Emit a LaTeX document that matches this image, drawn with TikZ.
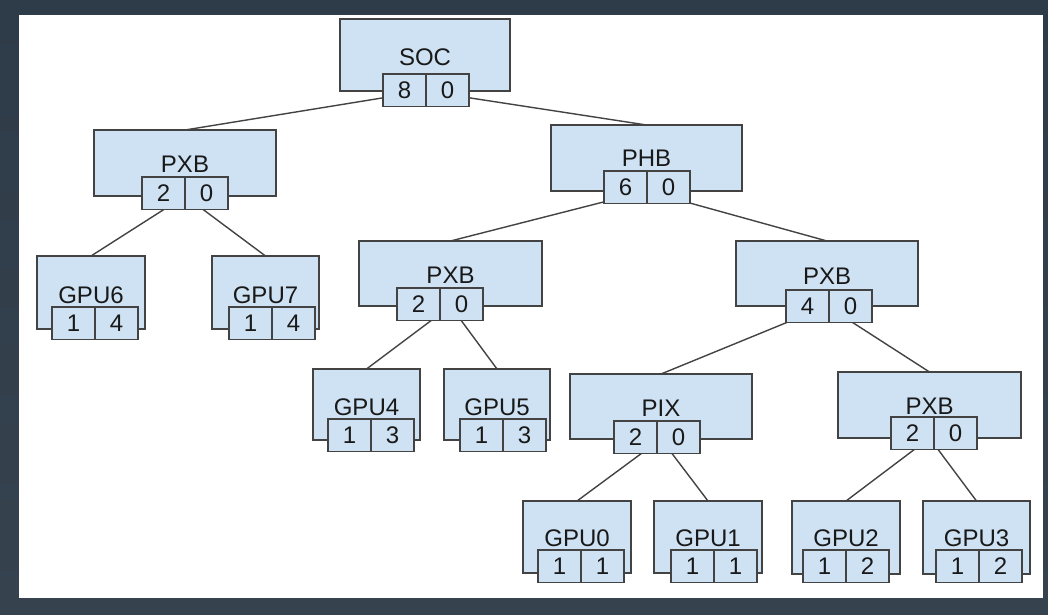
\documentclass[tikz,border=0pt]{standalone}
\usepackage{fontspec}
\setmainfont{Liberation Sans}
\pgfdeclarelayer{bg}
\pgfdeclarelayer{edges}
\pgfsetlayers{bg,edges,main}
\definecolor{frame}{HTML}{2E3B48}
\definecolor{frameb}{HTML}{36434F}
\definecolor{boxc}{HTML}{CFE2F3}
\definecolor{linec}{HTML}{434343}
\tikzset{
  tbox/.style={draw=linec, fill=boxc, line width=1.4pt, inner sep=0pt, outer sep=0pt},
  cellbox/.style={tbox, minimum width=43pt, minimum height=32.5pt, font=\fontsize{24}{28}\selectfont, text=black!90},
  lbl/.style={anchor=base, inner sep=0pt, font=\fontsize{24}{28}\selectfont, text=black!90},
  edge/.style={draw=linec, line width=1.4pt},
}
% name, cx, cy, w, h, label, label x, label baseline y
\newcommand\tbx[8]{%
  \node[tbox, minimum width=#4pt, minimum height=#5pt] (#1) at (#2,#3) {};
  \node[lbl] (#1t) at (#7,#8) {#6};}
% name, left x, top y, a, b
\newcommand\tcl[5]{%
  \node[cellbox, anchor=north west] (#1a) at (#2,#3) {#4};
  \node[cellbox, anchor=north west] (#1b) at (#1a.north east) {#5};}
\begin{document}
\begin{tikzpicture}[x=1pt,y=-1pt]
\useasboundingbox (0,0) rectangle (1048,614);
\begin{pgfonlayer}{bg}
\shade[top color=frame, bottom color=frameb] (0,0) rectangle (1048,614);
\fill[white] (19,15) rectangle (1043,598);
\end{pgfonlayer}
% level 0
\tbx{soc}{425}{55}{170}{72}{SOC}{425}{65}
\tcl{socc}{383}{74}{8}{0}
% level 1
\tbx{pxbA}{185}{163}{182}{66}{PXB}{185}{172}
\tcl{pxbAc}{142}{177}{2}{0}
\tbx{phb}{646.5}{158}{191}{66}{PHB}{646.5}{166}
\tcl{phbc}{604}{171}{6}{0}
% level 2
\tbx{gpu6}{91}{292.5}{108}{73}{GPU6}{91}{303}
\tcl{gpu6c}{52}{307}{1}{4}
\tbx{gpu7}{265.5}{292.5}{107}{73}{GPU7}{265.5}{303}
\tcl{gpu7c}{229}{307}{1}{4}
\tbx{pxbB}{450.5}{273.5}{183}{65}{PXB}{450.5}{283}
\tcl{pxbBc}{397}{288}{2}{0}
\tbx{pxbC}{827}{273.5}{182}{65}{PXB}{827}{284}
\tcl{pxbCc}{786}{290}{4}{0}
% level 3
\tbx{gpu4}{366.5}{404.5}{107}{71}{GPU4}{366.5}{415}
\tcl{gpu4c}{328}{419}{1}{3}
\tbx{gpu5}{497}{404.5}{106}{71}{GPU5}{497}{415}
\tcl{gpu5c}{460}{419}{1}{3}
\tbx{pix}{661}{406.5}{182}{65}{PIX}{661}{416}
\tcl{pixc}{614}{421}{2}{0}
\tbx{pxbD}{929.5}{405}{183}{66}{PXB}{929.5}{414}
\tcl{pxbDc}{891}{417}{2}{0}
% level 4
\tbx{gpu0}{577}{537}{108}{72}{GPU0}{577}{546}
\tcl{gpu0c}{538}{550}{1}{1}
\tbx{gpu1}{708}{537}{108}{72}{GPU1}{708}{546}
\tcl{gpu1c}{671}{550}{1}{1}
\tbx{gpu2}{846}{537.5}{108}{73}{GPU2}{846}{546}
\tcl{gpu2c}{803}{550}{1}{2}
\tbx{gpu3}{976.5}{537.5}{107}{73}{GPU3}{976.5}{546}
\tcl{gpu3c}{936}{550}{1}{2}
\begin{pgfonlayer}{edges}
\draw[edge] (soc.south) -- (pxbA.north);
\draw[edge] (soc.south) -- (phb.north);
\draw[edge] (pxbA.south) -- (gpu6.north);
\draw[edge] (pxbA.south) -- (gpu7.north);
\draw[edge] (phb.south) -- (pxbB.north);
\draw[edge] (phb.south) -- (pxbC.north);
\draw[edge] (pxbB.south) -- (gpu4.north);
\draw[edge] (pxbB.south) -- (gpu5.north);
\draw[edge] (pxbC.south) -- (pix.north);
\draw[edge] (pxbC.south) -- (pxbD.north);
\draw[edge] (pix.south) -- (gpu0.north);
\draw[edge] (pix.south) -- (gpu1.north);
\draw[edge] (pxbD.south) -- (gpu2.north);
\draw[edge] (pxbD.south) -- (gpu3.north);
\end{pgfonlayer}
\end{tikzpicture}
\end{document}
